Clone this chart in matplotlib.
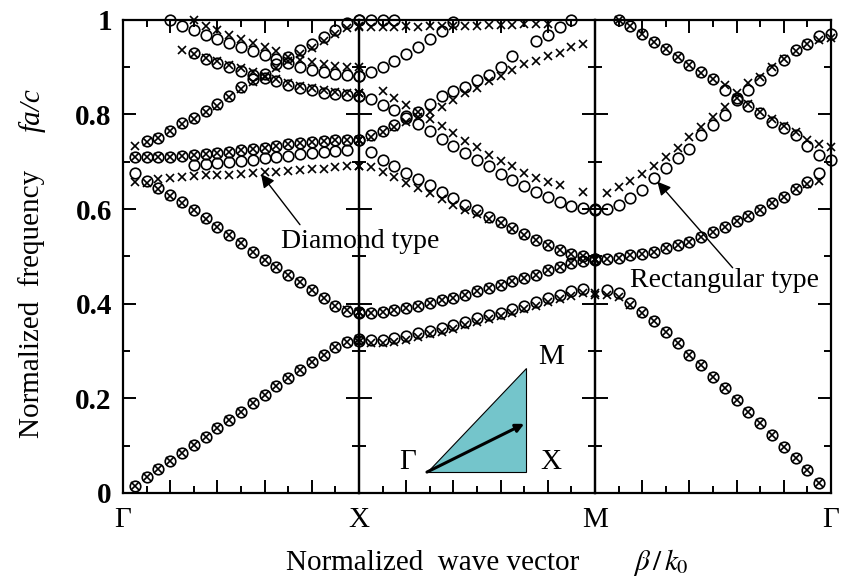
import numpy as np
import matplotlib
matplotlib.use('Agg')
from matplotlib import pyplot as plt
from matplotlib.ticker import MultipleLocator
from matplotlib.patches import Polygon

nan = np.nan
# sampling steps along each segment of the k-path (0 .. 1 in 0.05 steps)
k = np.arange(21) * 0.05

# ---- Gamma -> X : circles (o) and crosses (x) ----
gx_o_1 = [nan, 0.015, 0.033, 0.050, 0.068, 0.085, 0.101, 0.119, 0.137, 0.154, 0.172,
          0.190, 0.207, 0.225, 0.243, 0.260, 0.276, 0.292, 0.308, 0.320, 0.325]
gx_x_1 = gx_o_1
gx_o_2 = [nan, 0.677, 0.660, 0.644, 0.630, 0.614, 0.598, 0.581, 0.563, 0.545, 0.528,
          0.510, 0.493, 0.477, 0.461, 0.445, 0.428, 0.412, 0.395, 0.385, 0.380]
gx_x_2 = [nan, nan, 0.656, 0.642, 0.628, 0.613, 0.597, 0.580, 0.562, 0.545, 0.528,
          0.510, 0.493, 0.477, 0.461, 0.445, 0.428, 0.412, 0.395, 0.387, 0.382]
gx_o_3 = [nan, 0.711, 0.710, 0.711, 0.711, 0.713, 0.714, 0.716, 0.719, 0.721, 0.724,
          0.726, 0.730, 0.733, 0.737, 0.740, 0.742, 0.743, 0.745, 0.746, 0.746]
gx_x_3 = gx_o_3
gx_o_4 = [nan, nan, nan, nan, nan, nan, 0.693, 0.695, 0.697, 0.699, 0.702,
          0.704, 0.707, 0.710, 0.713, 0.716, 0.719, 0.721, 0.723, 0.725, nan]
gx_x_4 = [nan, 0.658, nan, 0.664, 0.665, 0.667, 0.670, 0.671, 0.673, 0.673, 0.675,
          0.677, 0.679, 0.679, 0.681, 0.683, 0.684, 0.685, 0.688, 0.690, 0.691]
gx_o_5 = [nan, nan, 0.743, 0.750, 0.765, 0.782, 0.793, 0.808, 0.822, 0.840, 0.859,
          0.875, 0.886, 0.907, 0.922, 0.937, 0.949, 0.963, 0.979, 0.993, 1.000]
gx_x_5 = [nan, 0.734, 0.741, 0.750, 0.764, 0.780, 0.791, 0.805, 0.818, 0.836, 0.853,
          0.868, 0.880, 0.898, 0.913, 0.927, 0.940, 0.955, 0.970, 0.982, 0.986]
gx_o_6 = [nan, nan, nan, nan, 1.000, 0.988, 0.979, 0.969, 0.960, 0.951, 0.942,
          0.934, 0.925, 0.918, 0.908, 0.901, 0.894, 0.889, 0.886, 0.884, 0.882]
gx_x_6 = [nan, nan, nan, nan, nan, nan, 1.000, 0.988, 0.979, 0.969, 0.960,
          0.951, 0.942, 0.934, 0.922, 0.915, 0.910, 0.906, 0.903, 0.901, 0.900]
gx_o_7 = [nan, nan, nan, nan, nan, nan, 0.930, 0.918, 0.908, 0.900, 0.891,
          0.884, 0.877, 0.870, 0.863, 0.856, 0.851, 0.846, 0.844, 0.841, 0.839]
gx_x_7 = [nan, nan, nan, nan, nan, 0.937, 0.928, 0.920, 0.912, 0.905, 0.898,
          0.890, 0.882, 0.874, 0.866, 0.860, 0.855, 0.851, 0.848, 0.846, 0.845]

# ---- X -> M ----
xm_o_1 = [0.322, 0.323, 0.324, 0.328, 0.332, 0.337, 0.343, 0.348, 0.355, 0.362, 0.369,
          0.376, 0.381, 0.388, 0.395, 0.404, 0.411, 0.418, 0.426, 0.431, nan]
xm_x_1 = [0.318, 0.316, 0.317, 0.320, 0.324, 0.329, 0.335, 0.340, 0.347, 0.354, 0.361,
          0.368, 0.374, 0.381, 0.388, 0.396, 0.403, 0.410, 0.417, 0.423, 0.422]
xm_o_2 = [0.382, 0.380, 0.383, 0.387, 0.390, 0.395, 0.401, 0.407, 0.412, 0.419, 0.426,
          0.433, 0.440, 0.447, 0.454, 0.461, 0.471, 0.478, 0.485, 0.491, 0.494]
xm_x_2 = xm_o_2
xm_o_3 = [nan, 0.721, 0.704, 0.691, 0.677, 0.663, 0.651, 0.637, 0.623, 0.609, 0.598,
          0.584, 0.573, 0.560, 0.547, 0.535, 0.524, 0.514, 0.505, 0.500, 0.495]
xm_x_3 = [0.691, 0.688, 0.678, 0.667, 0.656, 0.645, 0.634, 0.621, 0.609, 0.598, 0.590,
          0.580, 0.570, 0.558, 0.546, 0.535, 0.524, 0.514, 0.506, 0.500, 0.495]
xm_o_4 = [0.745, 0.757, 0.766, 0.778, 0.792, 0.806, 0.822, 0.838, 0.849, 0.859, 0.873,
          0.884, 0.901, 0.924, nan, 0.955, 0.969, 0.985, 1.000, nan, nan]
xm_x_4 = [0.745, 0.752, 0.762, 0.773, 0.785, 0.795, 0.805, 0.815, 0.831, 0.845, 0.856,
          0.870, 0.882, 0.893, 0.907, 0.914, 0.923, 0.930, 0.942, 0.948, nan]
xm_o_5 = [0.840, 0.833, 0.821, 0.809, 0.796, 0.780, 0.764, 0.748, 0.734, 0.718, 0.704,
          0.690, 0.674, 0.662, 0.649, 0.637, 0.626, 0.616, 0.607, 0.602, 0.600]
xm_x_5 = [0.845, nan, 0.850, 0.835, 0.821, 0.806, 0.790, 0.776, 0.760, 0.743, 0.731,
          0.715, 0.701, 0.690, 0.676, 0.665, 0.658, 0.650, nan, 0.637, nan]
xm_o_6 = [0.882, 0.889, 0.900, 0.913, 0.927, 0.942, 0.960, 0.977, 0.995, nan, nan,
          nan, nan, nan, nan, nan, nan, nan, nan, nan, nan]
xm_o_7 = [1.000, 1.000, 1.000, 0.999, nan, nan, nan, nan, nan, nan, nan,
          nan, nan, nan, nan, nan, nan, nan, nan, nan, nan]
xm_x_6 = [0.984, 0.985, 0.985, 0.985, 0.986, 0.985, 0.986, 0.987, 0.987, 0.988, 0.988,
          0.989, 0.990, 0.990, 0.991, 0.991, 0.992, nan, nan, nan, nan]

# ---- M -> Gamma ----
mg_o_1 = [nan, 0.429, 0.422, 0.401, 0.383, 0.364, 0.341, 0.316, 0.292, 0.271, 0.246,
          0.221, 0.196, 0.172, 0.147, 0.123, 0.098, 0.073, 0.049, 0.021, nan]
mg_x_1 = [0.418, 0.418, 0.414, 0.398, 0.381, 0.364, 0.341, 0.316, 0.292, 0.271, 0.246,
          0.221, 0.196, 0.172, 0.147, 0.123, 0.098, 0.073, 0.049, 0.021, nan]
mg_o_2 = [0.493, 0.494, 0.496, 0.503, 0.505, 0.510, 0.517, 0.524, 0.531, 0.542, 0.552,
          0.562, 0.575, 0.585, 0.598, 0.612, 0.626, 0.642, 0.658, 0.676, nan]
mg_x_2 = [0.493, 0.494, 0.496, 0.503, 0.505, 0.510, 0.517, 0.524, 0.531, 0.542, 0.552,
          0.562, 0.575, 0.585, 0.598, 0.612, 0.626, 0.642, 0.652, 0.660, nan]
mg_o_3 = [0.598, 0.600, 0.609, 0.623, 0.640, 0.665, 0.686, 0.707, 0.728, 0.757, 0.778,
          0.799, 0.830, 0.852, 0.873, 0.894, 0.915, 0.937, 0.950, 0.965, 0.970]
mg_x_3 = [nan, 0.635, 0.646, 0.660, 0.674, 0.691, 0.711, 0.730, 0.753, 0.774, 0.795,
          0.816, 0.835, 0.866, 0.880, 0.900, 0.918, 0.935, 0.948, 0.957, 0.962]
mg_o_4 = [nan, nan, 1.000, 0.987, 0.970, 0.954, 0.938, 0.922, 0.905, 0.890, 0.875,
          0.852, 0.834, 0.818, 0.803, 0.785, 0.771, 0.757, 0.733, 0.715, 0.704]
mg_x_4 = [nan, nan, 1.000, 0.987, 0.970, 0.954, 0.938, 0.922, 0.905, 0.888, 0.875,
          0.862, 0.845, 0.822, 0.806, 0.790, 0.776, 0.762, 0.745, 0.738, 0.732]

seg_labels = [['Γ', 'X'], ['', 'M'], ['', 'Γ']]

plt.rcParams['font.family'] = ['Liberation Serif', 'DejaVu Serif']
plt.rcParams['mathtext.fontset'] = 'stix'

fig = plt.figure(figsize=(8.42, 5.84), dpi=100)
axes = fig.subplots(1, 3, sharey=True)
fig.subplots_adjust(left=0.146, right=0.987, bottom=0.156, top=0.966, wspace=0)

circles = [[gx_o_1, gx_o_2, gx_o_3, gx_o_4, gx_o_5, gx_o_6, gx_o_7],
           [xm_o_1, xm_o_2, xm_o_3, xm_o_4, xm_o_5, xm_o_6, xm_o_7],
           [mg_o_1, mg_o_2, mg_o_3, mg_o_4]]
crosses = [[gx_x_1, gx_x_2, gx_x_3, gx_x_4, gx_x_5, gx_x_6, gx_x_7],
           [xm_x_1, xm_x_2, xm_x_3, xm_x_4, xm_x_5, xm_x_6],
           [mg_x_1, mg_x_2, mg_x_3, mg_x_4]]

for i, ax in enumerate(axes):
    ax.set_facecolor('none')
    for band in circles[i]:
        ax.plot(k, band, ls='none', marker='o', ms=7.6, mfc='none', mec='black', mew=1.2, clip_on=False)
    for band in crosses[i]:
        ax.plot(k, band, ls='none', marker='x', ms=5.6, mec='black', mew=1.2, clip_on=False)
    ax.set_xlim(0, 1)
    ax.set_ylim(0, 1)
    for s in ax.spines.values():
        s.set_linewidth(1.6)
    ax.set_xticks([0, 0.2, 0.4, 0.6, 0.8, 1.0])
    ax.set_xticklabels([seg_labels[i][0], '', '', '', '', seg_labels[i][1]], fontsize=21)
    ax.xaxis.set_minor_locator(MultipleLocator(0.1))
    ax.yaxis.set_major_locator(MultipleLocator(0.2))
    ax.yaxis.set_minor_locator(MultipleLocator(0.1))
    ax.tick_params(which='both', direction='in', top=True, right=True, width=1.4)
    ax.tick_params(which='major', length=9.5)
    ax.tick_params(which='minor', length=5)
    ax.tick_params(axis='x', pad=10)
    ax.tick_params(axis='y', pad=8)

axes[0].set_yticks([0, 0.2, 0.4, 0.6, 0.8, 1.0])
axes[0].set_yticklabels(['0', '0.2', '0.4', '0.6', '0.8', '1'], fontsize=21, fontweight='bold')
for ax in axes[1:]:
    ax.tick_params(axis='y', labelleft=False)

# annotations
axes[0].text(1.004, 0.531, 'Diamond type', ha='center', va='center', fontsize=20, zorder=5)
axes[0].annotate('', xy=(0.585, 0.674), xytext=(0.75, 0.567),
                 arrowprops=dict(arrowstyle='-|>', color='black', lw=1, mutation_scale=20,
                                 shrinkA=0, shrinkB=0))
axes[2].text(0.549, 0.448, 'Rectangular type', ha='center', va='center', fontsize=20, zorder=5)
axes[2].annotate('', xy=(0.264, 0.658), xytext=(0.583, 0.476),
                 arrowprops=dict(arrowstyle='-|>', color='black', lw=1, mutation_scale=20,
                                 shrinkA=0, shrinkB=0))

# Brillouin zone inset
ax = axes[1]
tri = Polygon([(0.288, 0.044), (0.708, 0.044), (0.708, 0.264)], closed=True,
              facecolor='#74c5cb', edgecolor='black', lw=0.8, transform=ax.transAxes)
ax.add_patch(tri)
ax.annotate('', xy=(0.70, 0.146), xytext=(0.288, 0.044), xycoords='axes fraction',
            arrowprops=dict(arrowstyle='-|>', color='black', lw=2.2, mutation_scale=12,
                            shrinkA=0, shrinkB=0))
ax.text(0.205, 0.066, 'Γ', transform=ax.transAxes, ha='center', va='center', fontsize=21)
ax.text(0.815, 0.066, 'X', transform=ax.transAxes, ha='center', va='center', fontsize=21)
ax.text(0.815, 0.288, 'M', transform=ax.transAxes, ha='center', va='center', fontsize=21)

# axis titles
fig.text(0.038, 0.48, 'Normalized  frequency', rotation=90, ha='center', va='center', fontsize=21)
fig.text(0.038, 0.812, 'fa/c', rotation=90, ha='center', va='center', fontsize=21, style='italic')
fig.text(433 / 842, 1 - 563 / 584, 'Normalized  wave vector', ha='center', va='center', fontsize=21)
fig.text(661 / 842, 1 - 562 / 584, r'$\beta\,/\,k_0$', ha='center', va='center', fontsize=21)

plt.savefig('out.png', dpi=100)
